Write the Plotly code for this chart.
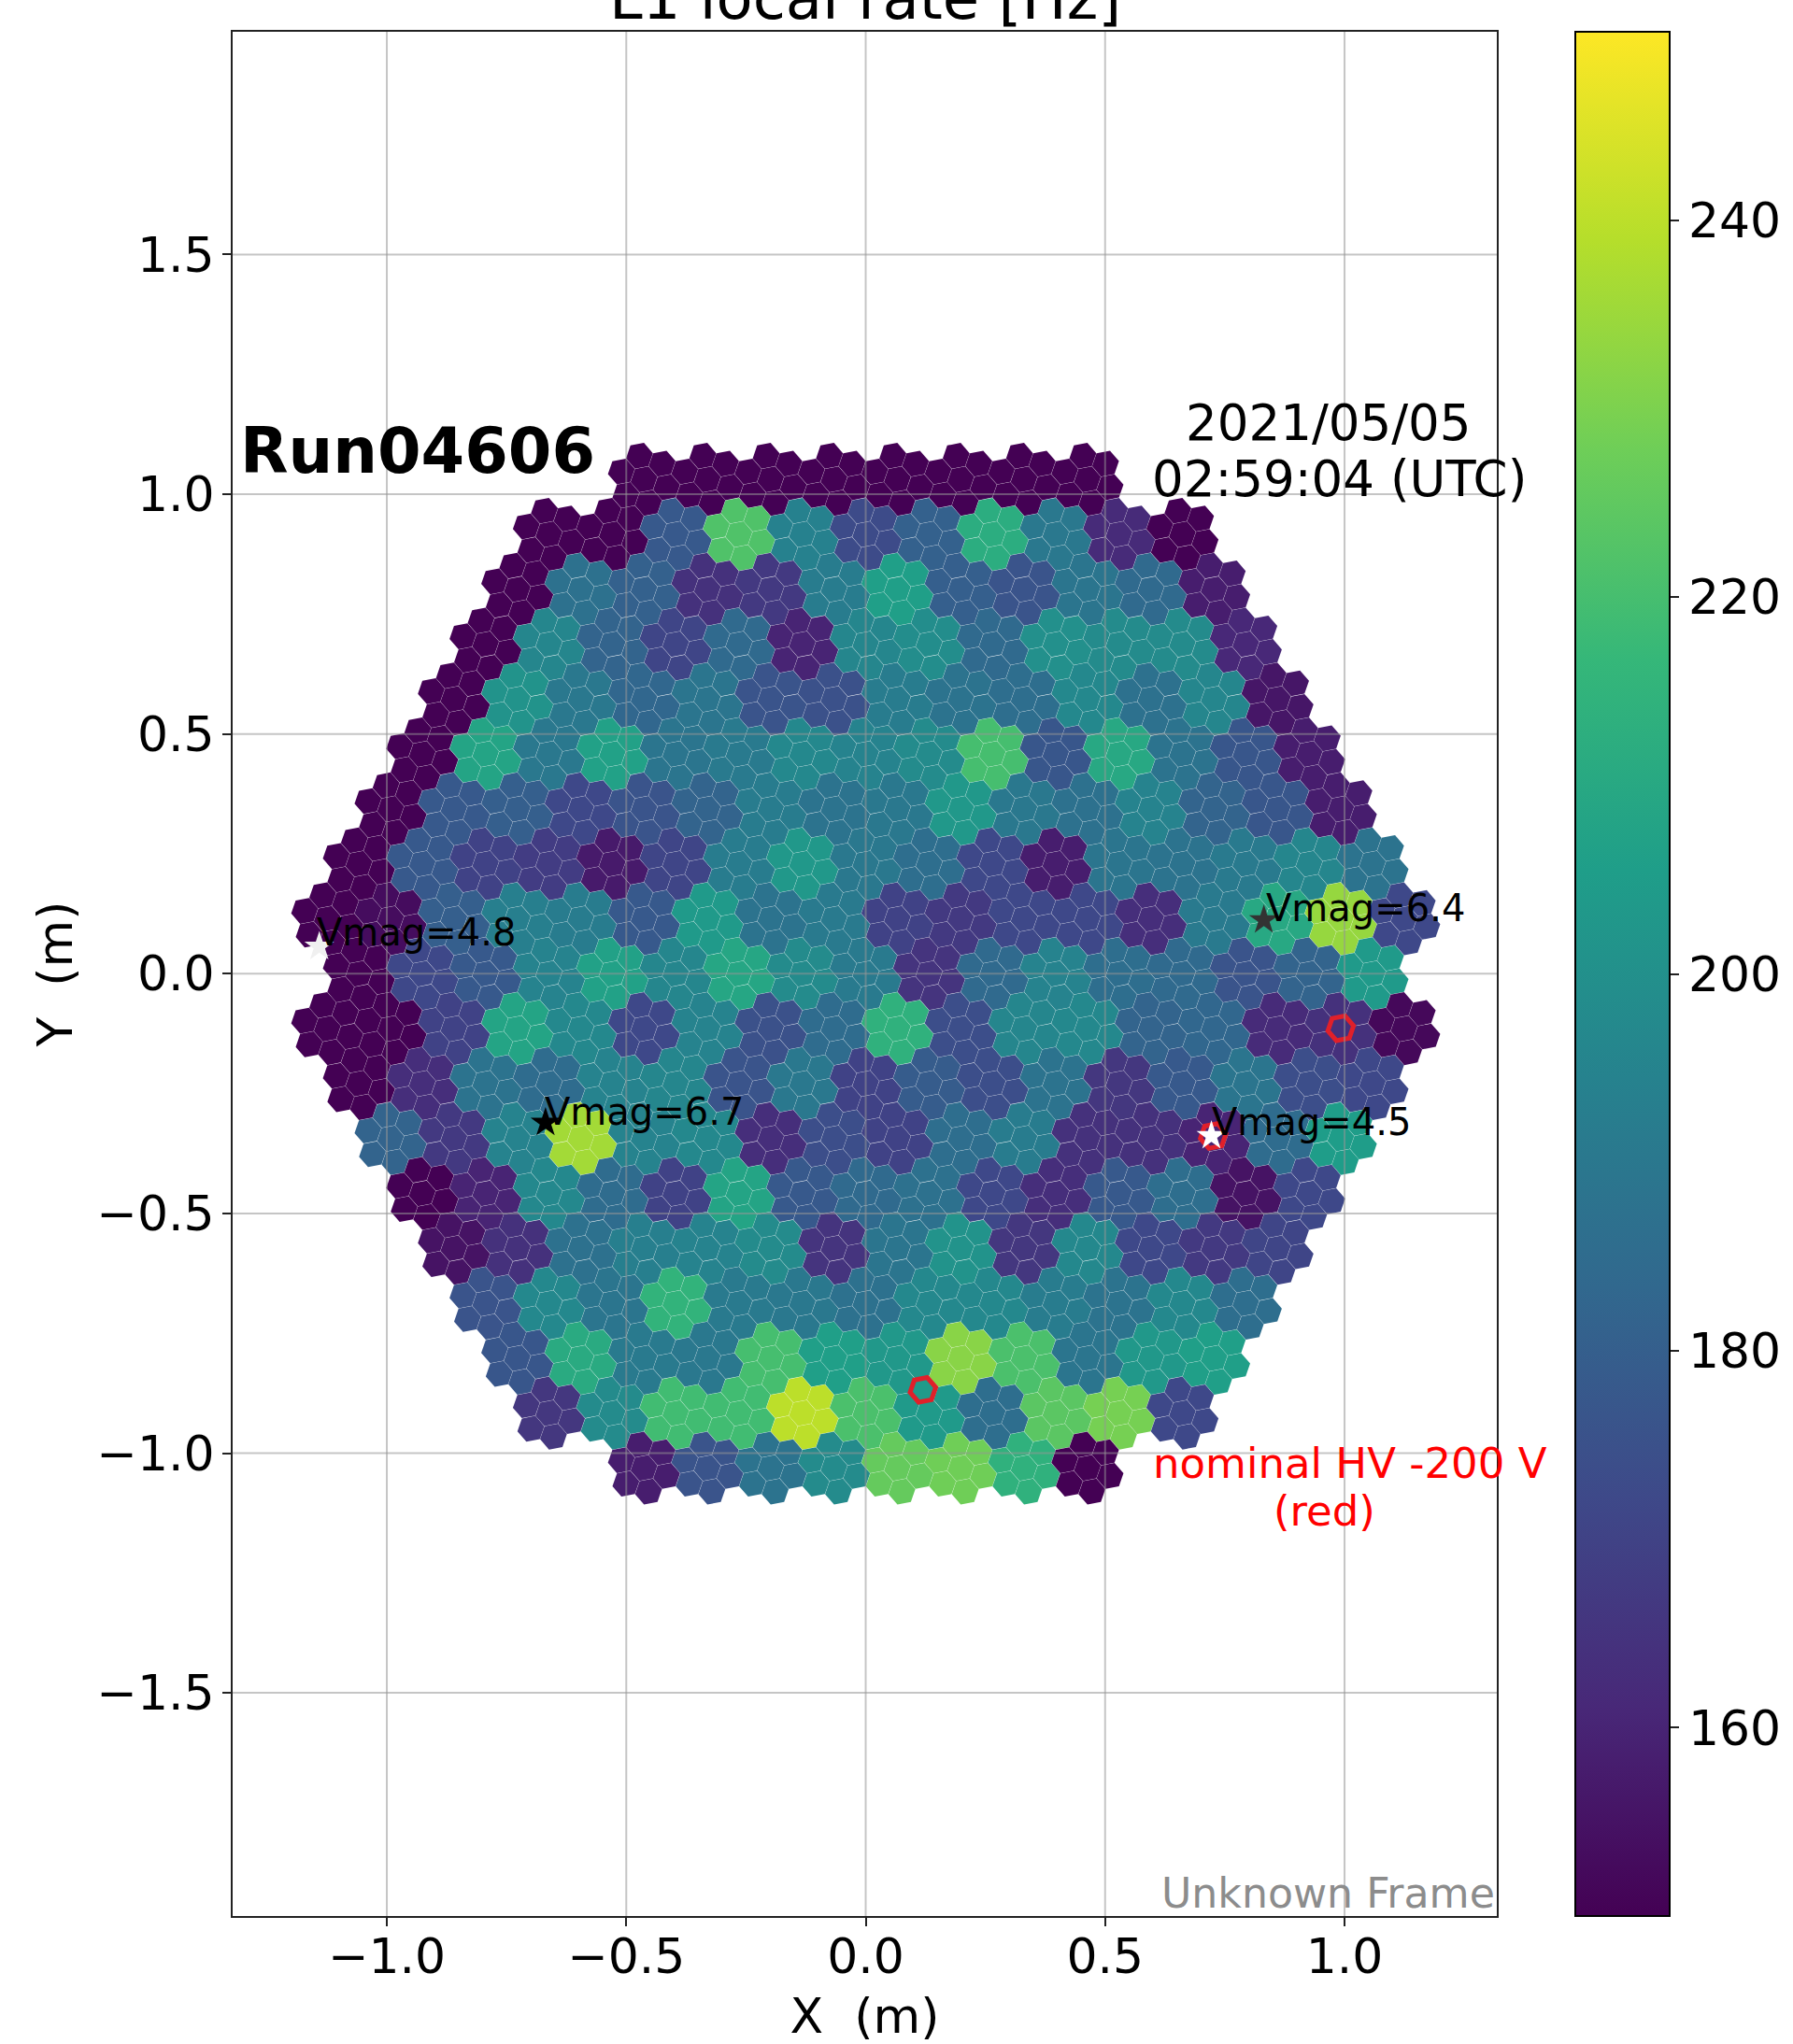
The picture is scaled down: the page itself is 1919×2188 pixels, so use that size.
import math
import plotly.graph_objects as go

# L1 local rate [Hz] per 7-pixel module, one list per module row (top row first)
rate_row_p9 = [150,150,150,150,150,150,150,150]
rate_row_p8 = [150,150,178,222,194,173,181,212,190,162,150]
rate_row_p7 = [150,187,181,164,167,192,206,180,176,189,184,158]
rate_row_p6 = [150,196,182,171,184,160,196,199,184,200,198,198,161]
rate_row_p5 = [150,201,190,183,189,176,175,192,188,186,197,187,196,156]
rate_row_p4 = [150,208,190,207,189,191,197,195,198,220,177,210,188,177,158]
rate_row_p3 = [150,178,180,172,176,182,192,188,190,203,190,187,195,182,177,158]
rate_row_p2 = [150,178,170,168,157,171,192,203,190,186,172,158,189,188,191,196,188]
rate_row_p1 = [150,153,180,193,192,178,204,188,191,170,167,172,172,163,191,210,234,172]
rate_row_00 = [150,172,178,195,207,196,209,198,191,165,184,195,186,184,176,182,204]
rate_row_m1 = [150,150,170,208,197,172,195,175,185,214,174,196,197,182,183,162,164,152]
rate_row_m2 = [150,163,188,185,195,196,176,190,170,179,174,188,166,178,189,174,172]
rate_row_m3 = [182,167,195,236,195,197,163,174,170,186,192,164,164,160,185,205]
rate_row_m4 = [150,160,197,185,170,208,178,184,187,172,163,178,186,155,172]
rate_row_m5 = [155,164,187,193,195,198,165,189,201,166,197,172,167,171]
rate_row_m6 = [176,197,189,215,191,190,187,197,197,192,188,197,186]
rate_row_m7 = [177,211,191,190,220,206,203,232,221,189,203,206]
rate_row_m8 = [166,198,219,219,240,221,204,186,224,229,172]
rate_row_m9 = [158,176,188,198,226,228,214,150]
module_rows = [rate_row_p9, rate_row_p8, rate_row_p7, rate_row_p6, rate_row_p5, rate_row_p4,
               rate_row_p3, rate_row_p2, rate_row_p1, rate_row_00, rate_row_m1, rate_row_m2,
               rate_row_m3, rate_row_m4, rate_row_m5, rate_row_m6, rate_row_m7, rate_row_m8,
               rate_row_m9]

pixel_pitch = 0.05
star_x = [-1.141, 0.8315, -0.6686, 0.722]
star_y = [0.0565, 0.112, -0.3107, -0.3383]
star_label = ["Vmag=4.8", "Vmag=6.4", "Vmag=6.7", "Vmag=4.5"]
star_color = ["#f0f0f0", "#333333", "#000000", "#ffffff"]
label_xshift = [-5, 0, -3, -2]
label_yshift = [-10, -12, -13, -10]
ring_x = [0.992, 0.1195, 0.7257]
ring_y = [-0.1138, -0.868, -0.3385]
x_ticks = [-1.0, -0.5, 0.0, 0.5, 1.0]
y_ticks = [-1.5, -1.0, -0.5, 0.0, 0.5, 1.0, 1.5]
cbar_ticks = [160, 180, 200, 220, 240]

module_dx = pixel_pitch * math.sqrt(7)
module_dy = module_dx * math.sqrt(3) / 2
petal = [(0.0, 0.0)] + [(pixel_pitch * math.cos(math.radians(40.9 + 60 * k)),
                         pixel_pitch * math.sin(math.radians(40.9 + 60 * k))) for k in range(6)]
px, py, pv = [], [], []
for i, row in enumerate(module_rows):
    n = len(row)
    for j, v in enumerate(row):
        cx = (j - (n - 1) / 2) * module_dx
        cy = (9 - i) * module_dy
        for ox, oy in petal:
            px.append(cx + ox)
            py.append(cy + oy)
            pv.append(v)

FONT = "DejaVu Sans"
fig = go.Figure()
fig.add_trace(go.Scatter(
    x=px, y=py, mode="markers", showlegend=False, hoverinfo="skip",
    marker=dict(symbol="hexagon", size=29.3, angle=19.1, color=pv, coloraxis="coloraxis",
                line=dict(width=0)),
))
fig.add_trace(go.Scatter(
    x=ring_x, y=ring_y, mode="markers", showlegend=False, hoverinfo="skip",
    marker=dict(symbol="hexagon", size=28, angle=19.1, color="rgba(0,0,0,0)",
                line=dict(color="#e0202a", width=5)),
))
fig.add_trace(go.Scatter(
    x=star_x, y=star_y, mode="markers", showlegend=False, hoverinfo="skip",
    marker=dict(symbol="star", size=24, color=star_color, line=dict(width=0)),
))

grid = "rgba(150,150,150,0.55)"
shapes = []
for t in x_ticks:
    shapes.append(dict(type="line", xref="x", yref="paper", x0=t, x1=t, y0=0, y1=1,
                       layer="above", line=dict(color=grid, width=2)))
for t in y_ticks:
    shapes.append(dict(type="line", xref="paper", yref="y", x0=0, x1=1, y0=t, y1=t,
                       layer="above", line=dict(color=grid, width=2)))

annos = []
for sx, sy, lab, dx, dy in zip(star_x, star_y, star_label, label_xshift, label_yshift):
    annos.append(dict(x=sx, y=sy, xref="x", yref="y", text=lab, showarrow=False,
                      xanchor="left", yanchor="bottom", xshift=dx, yshift=dy,
                      font=dict(family=FONT, size=40, color="black")))
annos += [
    dict(x=-1.31, y=1.09, xref="x", yref="y", text="<b>Run04606</b>", showarrow=False,
         xanchor="left", yanchor="middle", font=dict(family=FONT, size=67, color="black")),
    dict(x=0.965, y=1.15, xref="x", yref="y", text="2021/05/05", showarrow=False,
         xanchor="center", yanchor="middle", font=dict(family=FONT, size=53, color="black")),
    dict(x=0.99, y=1.033, xref="x", yref="y", text="02:59:04 (UTC)", showarrow=False,
         xanchor="center", yanchor="middle", font=dict(family=FONT, size=53, color="black")),
    dict(x=1.0126, y=-1.022, xref="x", yref="y", text="nominal HV -200 V", showarrow=False,
         xanchor="center", yanchor="middle", font=dict(family=FONT, size=45, color="red")),
    dict(x=0.958, y=-1.12, xref="x", yref="y", text="(red)", showarrow=False,
         xanchor="center", yanchor="middle", font=dict(family=FONT, size=45, color="red")),
    dict(x=1.0, y=0.0, xref="paper", yref="paper", text="Unknown Frame", showarrow=False,
         xanchor="right", yanchor="bottom", yshift=-3,
         font=dict(family=FONT, size=44.2, color="#8c8c8c")),
    dict(x=0.5, y=1.0, xref="paper", yref="paper", text="L1 local rate [Hz]", showarrow=False,
         xanchor="center", yanchor="bottom", yshift=-3,
         font=dict(family=FONT, size=64, color="black")),
]

axis_common = dict(tickformat=".1f", showgrid=False, zeroline=False, showline=True, mirror=True,
                   linecolor="#222222", linewidth=2, ticks="outside", ticklen=9, tickwidth=2,
                   tickcolor="#222222", automargin=False, tickfont=dict(family=FONT, size=52))

fig.update_layout(
    width=1919, height=2188, autosize=False,
    margin=dict(l=249, r=316, t=34, b=137),
    paper_bgcolor="white", plot_bgcolor="white",
    font=dict(family=FONT, size=52, color="black"),
    shapes=shapes, annotations=annos,
    coloraxis=dict(cmin=150, cmax=250, colorscale="Viridis",
                   colorbar=dict(x=1.0613, xanchor="left", xpad=0, ypad=0, y=0.5, yanchor="middle",
                                 len=1, thickness=101, outlinecolor="black", outlinewidth=2,
                                 tickvals=cbar_ticks, ticks="outside", ticklen=9, tickwidth=2,
                                 tickcolor="#222222", tickfont=dict(family=FONT, size=52))),
    xaxis=dict(range=[-1.322, 1.318], tickvals=x_ticks, ticklabelstandoff=-12,
               title=dict(text="X\u00a0\u00a0(m)", font=dict(family=FONT, size=52), standoff=16),
               **axis_common),
    yaxis=dict(range=[-1.9655, 1.9647], tickvals=y_ticks, ticklabelstandoff=-2,
               title=dict(text="Y\u00a0\u00a0(m)", font=dict(family=FONT, size=52), standoff=9),
               **axis_common),
)
fig.write_html("out.html", config={"displayModeBar": False},
               post_script="document.body.style.margin='0';")
